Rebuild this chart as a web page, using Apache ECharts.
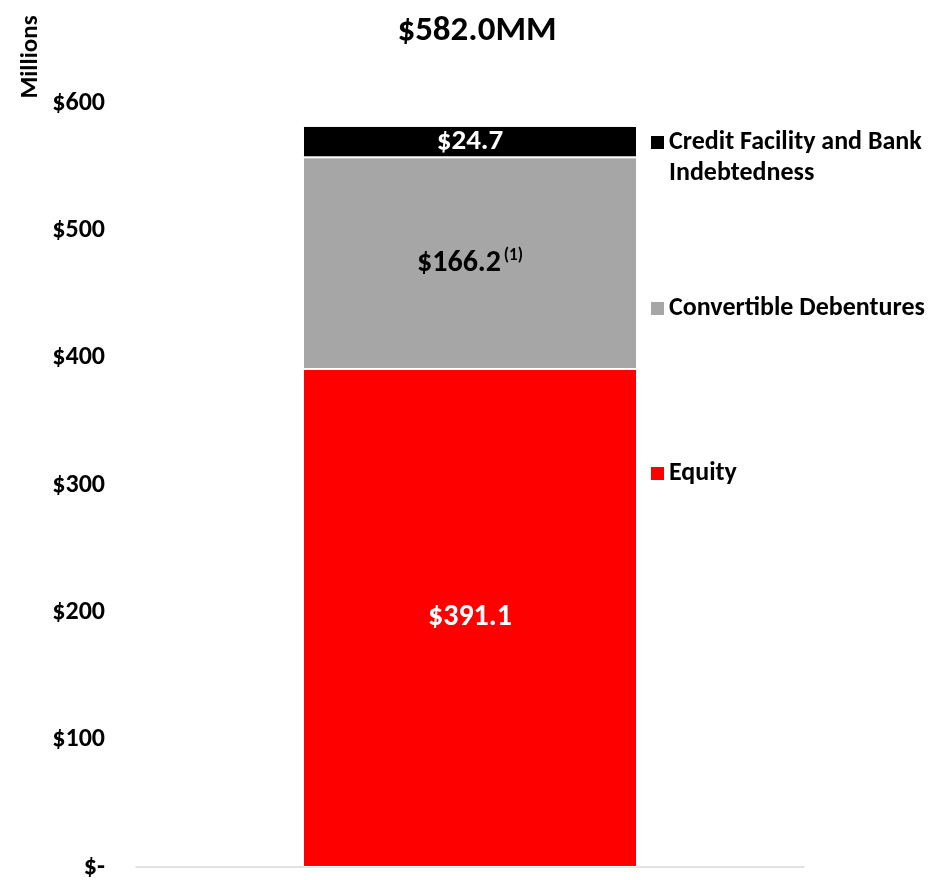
<!DOCTYPE html>
<html>
<head>
<meta charset="utf-8">
<script src="https://cdn.jsdelivr.net/npm/echarts@6/dist/echarts.min.js"></script>
<style>
html,body{margin:0;padding:0;background:#fff;}
#chart{width:934px;height:880px;}
</style>
</head>
<body>
<div id="chart"></div>
<script>
var categories = ['Capitalization'];
var equity = [391.1];
var convertibleDebentures = [166.2];
var creditFacility = [24.7];
var yTicks = [0, 100, 200, 300, 400, 500, 600];
var seriesNames = ['Equity', 'Convertible Debentures', 'Credit Facility and Bank Indebtedness'];

var FONT = 'Carlito, Lato, "Liberation Sans", sans-serif';
var total = equity[0] + convertibleDebentures[0] + creditFacility[0];

var legendText = { fontFamily: FONT, fontWeight: 'bold', fontSize: 26, lineHeight: 31, color: '#000' };
function legendBase(name, top, fmt) {
  var l = {
    data: [name], left: 651, top: top, padding: 0, itemWidth: 13, itemHeight: 13, icon: 'rect',
    itemStyle: { borderWidth: 0 }, textStyle: legendText, selectedMode: false
  };
  if (fmt) l.formatter = fmt;
  return l;
}

var chart = echarts.init(document.getElementById('chart'));
var option = {
  backgroundColor: '#ffffff',
  animation: false,
  textStyle: { fontFamily: FONT },
  title: {
    text: '$' + total.toFixed(1) + 'MM',
    left: 472, textAlign: 'center', top: 9,
    textStyle: { fontFamily: FONT, fontWeight: 'bold', fontSize: 35, color: '#000' }
  },
  graphic: [{
    type: 'text', x: 31, y: 57, rotation: Math.PI / 2,
    style: { text: 'Millions', fontFamily: FONT, fontWeight: 'bold', fontSize: 25, fill: '#000',
      align: 'center', verticalAlign: 'middle' }
  }],
  legend: [
    legendBase(seriesNames[2], 96, function (n) { return '\n' + n.replace(' Bank ', ' Bank\n'); }),
    legendBase(seriesNames[1], 293),
    legendBase(seriesNames[0], 458)
  ],
  grid: { left: 136, right: 130, top: 103, bottom: 12, containLabel: false },
  xAxis: {
    type: 'category', data: categories,
    axisLine: { lineStyle: { color: '#d9d9d9', width: 1.5 } },
    axisTick: { show: false }, axisLabel: { show: false }
  },
  yAxis: {
    type: 'value', min: yTicks[0], max: yTicks[yTicks.length - 1], interval: 100,
    axisLine: { show: false }, axisTick: { show: false }, splitLine: { show: false },
    axisLabel: {
      margin: 31, fontFamily: FONT, fontWeight: 'bold', fontSize: 26, color: '#000',
      formatter: function (v) { return v === 0 ? '$-' : '$' + v; }
    }
  },
  series: [
    {
      name: seriesNames[0], type: 'bar', stack: 'cap', data: equity, barWidth: '50%',
      itemStyle: { color: '#ff0000', borderColor: '#ffffff', borderWidth: 1 },
      label: { show: true, position: 'inside', color: '#ffffff', fontFamily: FONT, fontWeight: 'bold', fontSize: 30,
        formatter: function (p) { return '$' + p.value.toFixed(1); } }
    },
    {
      name: seriesNames[1], type: 'bar', stack: 'cap', data: convertibleDebentures, barWidth: '50%',
      itemStyle: { color: '#a6a6a6', borderColor: '#ffffff', borderWidth: 1 },
      label: { show: true, position: 'inside', color: '#000000',
        formatter: function (p) { return '{v|$' + p.value.toFixed(1) + '} {s|(1)}'; },
        rich: {
          v: { fontFamily: FONT, fontWeight: 'bold', fontSize: 30, color: '#000' },
          s: { fontFamily: FONT, fontWeight: 'bold', fontSize: 17, color: '#000', padding: [0, 0, 14, 0] }
        }
      }
    },
    {
      name: seriesNames[2], type: 'bar', stack: 'cap', data: creditFacility, barWidth: '50%',
      itemStyle: { color: '#000000', borderColor: '#ffffff', borderWidth: 1 },
      label: { show: true, position: 'inside', color: '#ffffff', fontFamily: FONT, fontWeight: 'bold', fontSize: 29,
        formatter: function (p) { return '$' + p.value.toFixed(1); } }
    }
  ]
};
chart.setOption(option);
</script>
</body>
</html>
